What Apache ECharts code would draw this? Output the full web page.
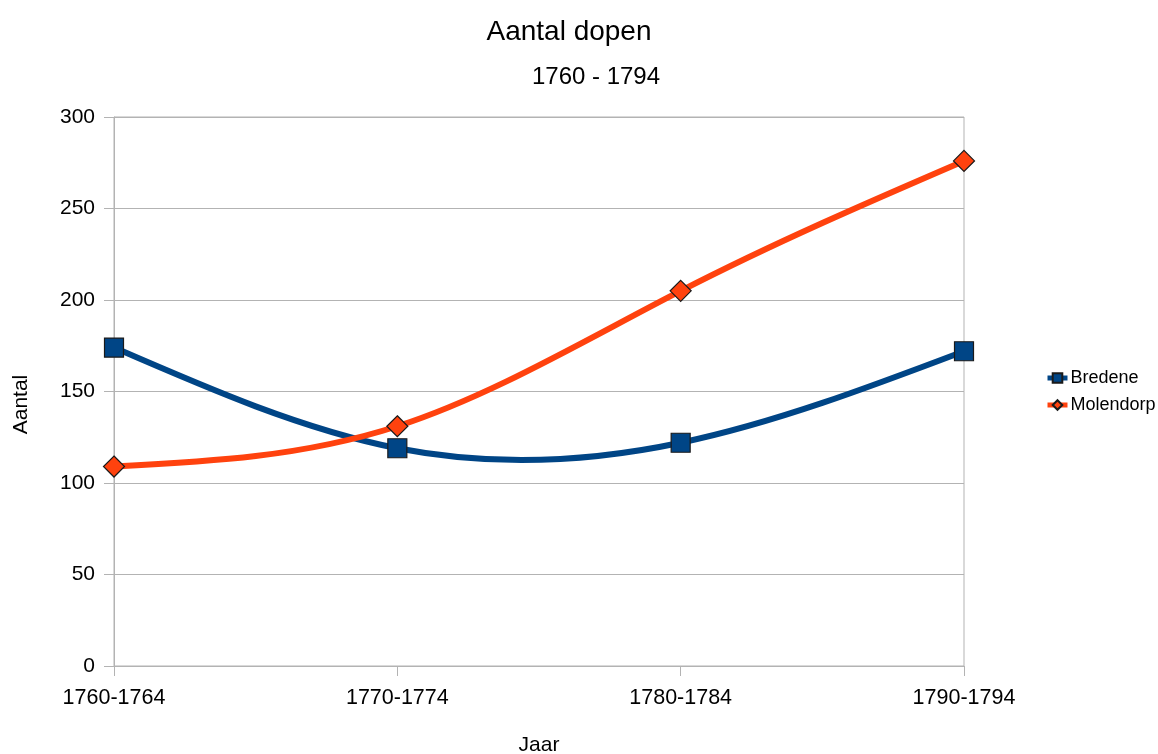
<!DOCTYPE html>
<html>
<head>
<meta charset="utf-8">
<script src="https://cdn.jsdelivr.net/npm/echarts@6/dist/echarts.min.js"></script>
<style>
  html, body { margin: 0; padding: 0; background: #fff; }
  #chart { width: 1158px; height: 754px; }
</style>
</head>
<body>
<div id="chart"></div>
<script>
var periods = ["1760-1764", "1770-1774", "1780-1784", "1790-1794"];
var bredene = [174, 119, 122, 172];
var molendorp = [109, 131, 205, 276];
var yTicks = [0, 50, 100, 150, 200, 250, 300];

var colors = { Bredene: "#004586", Molendorp: "#ff420e" };
var font = "Liberation Sans, Arial, sans-serif";

// second derivatives of a natural cubic spline (x spacing = 1), like the original chart's "cubic spline"
function splineMoments(y) {
  var n = y.length, a = [], b = [], c = [], d = [], m = new Array(n).fill(0);
  for (var i = 1; i < n - 1; i++) {
    a.push(1); b.push(4); c.push(1);
    d.push(6 * (y[i - 1] - 2 * y[i] + y[i + 1]));
  }
  // thomas algorithm
  var k = d.length;
  for (var j = 1; j < k; j++) {
    var w = a[j] / b[j - 1];
    b[j] -= w * c[j - 1];
    d[j] -= w * d[j - 1];
  }
  for (var j2 = k - 1; j2 >= 0; j2--) {
    m[j2 + 1] = (d[j2] - (j2 < k - 1 ? c[j2] * m[j2 + 2] : 0)) / b[j2];
  }
  return m;
}

function splineSeries(name, values) {
  var M = splineMoments(values);
  return {
    name: name,
    type: "custom",
    z: name === "Molendorp" ? 3 : 2,
    silent: true,
    data: values.map(function (v, i) { return [i, v]; }),
    renderItem: function (params, api) {
      var i = params.dataIndex;
      if (i >= values.length - 1) return null;
      var y0 = values[i], y1 = values[i + 1];
      var s0 = (y1 - y0) - (2 * M[i] + M[i + 1]) / 6;
      var s1 = (y1 - y0) + (M[i] + 2 * M[i + 1]) / 6;
      var p0 = api.coord([i, y0]);
      var p1 = api.coord([i + 1, y1]);
      var c0 = api.coord([i, y0 + s0 / 3]);
      var c1 = api.coord([i, y1 - s1 / 3]);
      var dx = (p1[0] - p0[0]) / 3;
      return {
        type: "bezierCurve",
        shape: {
          x1: p0[0], y1: p0[1], x2: p1[0], y2: p1[1],
          cpx1: p0[0] + dx, cpy1: c0[1],
          cpx2: p1[0] - dx, cpy2: c1[1]
        },
        style: { stroke: colors[name], lineWidth: 6, fill: null, lineCap: "butt" }
      };
    }
  };
}

function markerSeries(name, values, symbol, size) {
  return {
    name: name,
    type: "line",
    data: values,
    symbol: symbol,
    symbolSize: size,
    showSymbol: true,
    lineStyle: { opacity: 0 },
    itemStyle: { color: colors[name], borderColor: "#1a1a1a", borderWidth: 1.2 },
    z: name === "Molendorp" ? 5 : 4
  };
}

var myChart = echarts.init(document.getElementById("chart"));

var option = {
  animation: false,
  title: [
    {
      text: "Aantal dopen",
      left: 564, top: 13, textAlign: "center",
      textStyle: { fontFamily: font, fontSize: 28, fontWeight: "normal", color: "#000" }
    },
    {
      text: "1760 - 1794",
      left: 591, top: 60, textAlign: "center",
      textStyle: { fontFamily: font, fontSize: 24, fontWeight: "normal", color: "#000" }
    }
  ],
  legend: {
    orient: "vertical",
    left: 1040, top: 364,
    itemGap: 9,
    itemWidth: 20, itemHeight: 12,
    itemGap: 9,
    textStyle: { fontFamily: font, fontSize: 18, color: "#000", padding: [0, 0, 0, -2] },
    data: [
      { name: "Bredene", itemStyle: { color: colors.Bredene }, lineStyle: { opacity: 1, width: 5, color: colors.Bredene } },
      { name: "Molendorp", itemStyle: { color: colors.Molendorp }, lineStyle: { opacity: 1, width: 5, color: colors.Molendorp } }
    ]
  },
  grid: {
    left: 114, right: 194, top: 117, bottom: 88,
    outerBoundsMode: "none", containLabel: false,
    show: true, borderColor: "#b3b3b3", borderWidth: 1
  },
  xAxis: {
    type: "category",
    data: periods,
    boundaryGap: false,
    name: "Jaar",
    nameLocation: "middle",
    nameGap: 69,
    nameTextStyle: { fontFamily: font, fontSize: 21, color: "#000" },
    axisLine: { lineStyle: { color: "#b3b3b3", width: 1 } },
    axisTick: { show: true, length: 10, inside: false, lineStyle: { color: "#b3b3b3" } },
    axisLabel: { fontFamily: font, fontSize: 21.5, color: "#000", margin: 21 },
    splitLine: { show: false }
  },
  yAxis: {
    type: "value",
    min: yTicks[0],
    max: yTicks[yTicks.length - 1],
    interval: 50,
    name: "Aantal",
    nameLocation: "middle",
    nameGap: 82,
    nameRotate: 90,
    nameTextStyle: { fontFamily: font, fontSize: 21, color: "#000", padding: [0, 26, 0, 0] },
    axisLine: { show: true, lineStyle: { color: "#b3b3b3", width: 1 } },
    axisTick: { show: true, length: 10, inside: false, lineStyle: { color: "#b3b3b3" } },
    axisLabel: { fontFamily: font, fontSize: 21, color: "#000", margin: 19 },
    splitLine: { show: true, lineStyle: { color: "#b3b3b3", width: 1 } }
  },
  series: [
    markerSeries("Bredene", bredene, "rect", 19),
    markerSeries("Molendorp", molendorp, "diamond", 21),
    splineSeries("Bredene", bredene),
    splineSeries("Molendorp", molendorp)
  ]
};
myChart.setOption(option);
</script>
</body>
</html>
